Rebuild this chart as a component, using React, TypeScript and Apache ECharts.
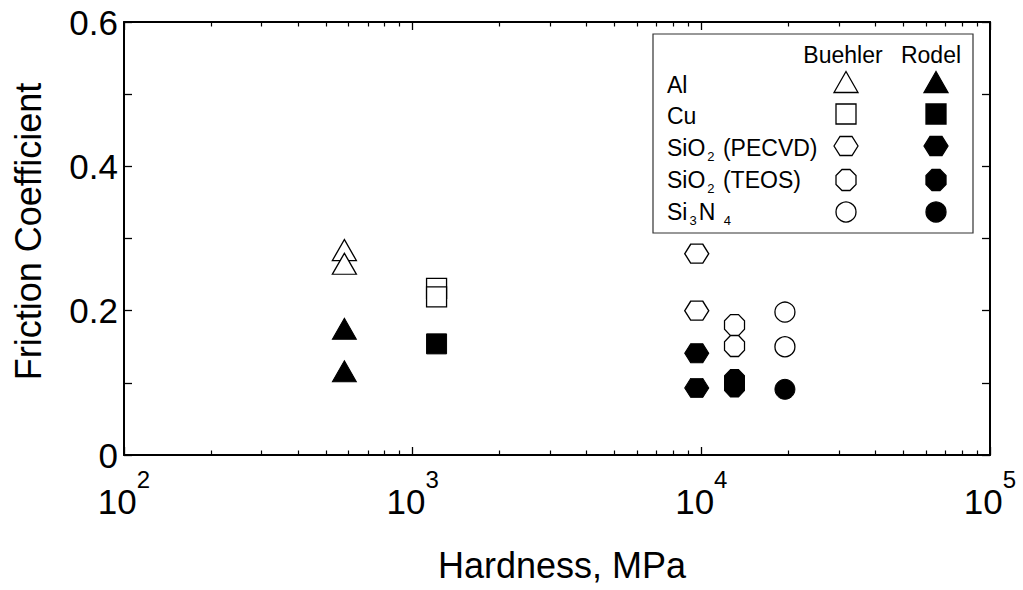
import React, { useEffect, useRef } from 'react';
import * as echarts from 'echarts';

const materials = ['Al', 'Cu', 'SiO2 (PECVD)', 'SiO2 (TEOS)', 'Si3N4'];
const hardness = [580, 1210, 9640, 13030, 19480];
const buehlerValues = [
  [0.284, 0.265],
  [0.231, 0.219],
  [0.279, 0.2],
  [0.18, 0.151],
  [0.198, 0.15],
];
const rodelValues = [
  [0.175, 0.116],
  [0.154],
  [0.141, 0.093],
  [0.104, 0.095],
  [0.091],
];
const xMajorTicks = [100, 1000, 10000, 100000];
const xMinorTicks = [
  200, 300, 400, 500, 600, 700, 800, 900,
  2000, 3000, 4000, 5000, 6000, 7000, 8000, 9000,
  20000, 30000, 40000, 50000, 60000, 70000, 80000, 90000,
];
const legendLabels = [
  '{a|Al}',
  '{a|Cu}',
  '{a|SiO}{s|2}{a| (PECVD)}',
  '{a|SiO}{s|2}{a| (TEOS)}',
  '{a|Si}{s|3}{a|N }{s|4}',
];

const HEX = 'path://M0,10L6,0L18,0L24,10L18,20L6,20Z';
const OCT = 'path://M6,0L14,0L20,6L20,14L14,20L6,20L0,14L0,6Z';
const symbolDefs: { symbol: string; size: number | number[] }[] = [
  { symbol: 'triangle', size: [24, 21] },
  { symbol: 'rect', size: 20 },
  { symbol: HEX, size: [24, 19] },
  { symbol: OCT, size: [20, 21] },
  { symbol: 'circle', size: 20 },
];

const FONT = 'Liberation Sans, Arial, Helvetica, sans-serif';

function legendShape(kind: number, cx: number, cy: number, filled: boolean) {
  const style = { fill: filled ? '#000' : '#fff', stroke: '#000', lineWidth: 1.3 };
  if (kind === 0) {
    return { type: 'polygon', shape: { points: [[cx, cy - 10.5], [cx + 12, cy + 10.5], [cx - 12, cy + 10.5]] }, style };
  }
  if (kind === 1) {
    return { type: 'rect', shape: { x: cx - 10, y: cy - 10, width: 20, height: 20 }, style };
  }
  if (kind === 2) {
    return {
      type: 'polygon',
      shape: { points: [[cx - 12, cy], [cx - 6, cy - 9.5], [cx + 6, cy - 9.5], [cx + 12, cy], [cx + 6, cy + 9.5], [cx - 6, cy + 9.5]] },
      style,
    };
  }
  if (kind === 3) {
    return {
      type: 'polygon',
      shape: {
        points: [[cx - 4, cy - 10.5], [cx + 4, cy - 10.5], [cx + 10, cy - 4.5], [cx + 10, cy + 4.5], [cx + 4, cy + 10.5], [cx - 4, cy + 10.5], [cx - 10, cy + 4.5], [cx - 10, cy - 4.5]],
      },
      style,
    };
  }
  return { type: 'circle', shape: { cx, cy, r: 10 }, style };
}

export default function App() {
  const ref = useRef<HTMLDivElement>(null);

  useEffect(() => {
    document.body.style.margin = '0';
    if (!ref.current) return;
    const chart = echarts.init(ref.current, null, { renderer: 'svg' });

    const series: any[] = [];
    materials.forEach((m, i) => {
      series.push({
        name: m + ' Buehler',
        type: 'scatter',
        xAxisIndex: 0,
        yAxisIndex: 0,
        symbol: symbolDefs[i].symbol,
        symbolSize: symbolDefs[i].size,
        itemStyle: { color: '#fff', borderColor: '#000', borderWidth: 1.3, opacity: 1 },
        data: buehlerValues[i].map((v) => [hardness[i], v]),
      });
      series.push({
        name: m + ' Rodel',
        type: 'scatter',
        xAxisIndex: 0,
        yAxisIndex: 0,
        symbol: symbolDefs[i].symbol,
        symbolSize: symbolDefs[i].size,
        itemStyle: { color: '#000', borderColor: '#000', borderWidth: 1, opacity: 1 },
        data: rodelValues[i].map((v) => [hardness[i], v]),
      });
    });

    const rowsSym = [82, 114, 146, 180, 212];
    const rowsTxt = [85, 116, 148, 180, 212];
    const graphics: any[] = [
      {
        type: 'rect',
        shape: { x: 653, y: 34, width: 320, height: 199 },
        style: { fill: '#fff', stroke: '#333', lineWidth: 1.2 },
        z: 10,
      },
      {
        type: 'text',
        x: 843,
        y: 55,
        z: 11,
        style: { text: 'Buehler', font: `23px ${FONT}`, fill: '#000', align: 'center', verticalAlign: 'middle' },
      },
      {
        type: 'text',
        x: 931,
        y: 55,
        z: 11,
        style: { text: 'Rodel', font: `23px ${FONT}`, fill: '#000', align: 'center', verticalAlign: 'middle' },
      },
    ];
    materials.forEach((m, i) => {
      graphics.push({
        type: 'text',
        x: 667,
        y: rowsTxt[i],
        z: 11,
        style: {
          text: legendLabels[i],
          align: 'left',
          verticalAlign: 'middle',
          fill: '#000',
          rich: {
            a: { fontSize: 23, fontFamily: FONT, lineHeight: 30, verticalAlign: 'middle', fill: '#000' },
            s: { fontSize: 13, fontFamily: FONT, verticalAlign: 'bottom', fill: '#000', padding: [0, 2, 0, 2] },
          },
        },
      });
      graphics.push({ ...legendShape(i, 846, rowsSym[i], false), z: 11 });
      graphics.push({ ...legendShape(i, 936, rowsSym[i], true), z: 11 });
    });

    const axisLine = { show: true, lineStyle: { color: '#000', width: 2 } };
    const logCommon = { type: 'log', logBase: 10, min: 100, max: 100000, splitLine: { show: false } };

    chart.setOption({
      animation: false,
      backgroundColor: '#fff',
      textStyle: { fontFamily: FONT, color: '#000' },
      grid: { left: 124, right: 33, top: 22, bottom: 135, containLabel: false, outerBoundsMode: 'none' },
      xAxis: [
        {
          ...logCommon,
          position: 'bottom',
          name: 'Hardness, MPa',
          nameLocation: 'middle',
          nameGap: 92,
          nameTextStyle: { fontSize: 36, color: '#000', fontFamily: FONT, padding: [0, 0, 0, 10] },
          axisLine,
          axisTick: { show: true, inside: true, length: 8, lineStyle: { color: '#000', width: 1.3 } },
          axisLabel: {
            show: true,
            margin: 12,
            color: '#000',
            formatter: (v: number) => `{b|10}{s|${Math.round(Math.log10(v))}}`,
            rich: {
              b: { fontSize: 35, fontFamily: FONT, color: '#000', lineHeight: 52, verticalAlign: 'bottom' },
              s: { fontSize: 24, fontFamily: FONT, color: '#000', verticalAlign: 'top' },
            },
          },
        },
        {
          ...logCommon,
          position: 'bottom',
          axisLine: { show: false },
          axisTick: { show: true, inside: true, length: 4.5, customValues: xMinorTicks, lineStyle: { color: '#000', width: 1.2 } },
          axisLabel: { show: false },
        },
        {
          ...logCommon,
          position: 'top',
          axisLine,
          axisTick: { show: true, inside: true, length: 8, customValues: xMajorTicks, lineStyle: { color: '#000', width: 1.3 } },
          axisLabel: { show: false },
        },
        {
          ...logCommon,
          position: 'top',
          axisLine: { show: false },
          axisTick: { show: true, inside: true, length: 4.5, customValues: xMinorTicks, lineStyle: { color: '#000', width: 1.2 } },
          axisLabel: { show: false },
        },
      ],
      yAxis: [
        {
          type: 'value',
          position: 'left',
          min: 0,
          max: 0.6,
          interval: 0.1,
          name: 'Friction Coefficient',
          nameLocation: 'middle',
          nameGap: 78,
          nameTextStyle: { fontSize: 36, color: '#000', fontFamily: FONT, padding: [0, 0, 0, 14] },
          axisLine,
          splitLine: { show: false },
          axisTick: { show: true, inside: true, length: 8, lineStyle: { color: '#000', width: 1.3 } },
          axisLabel: {
            show: true,
            margin: 6,
            fontSize: 35,
            color: '#000',
            fontFamily: FONT,
            formatter: (v: number) => {
              const k = Math.round(v * 10);
              if (k % 2 !== 0) return '';
              return k === 0 ? '0' : (k / 10).toFixed(1);
            },
          },
        },
        {
          type: 'value',
          position: 'right',
          min: 0,
          max: 0.6,
          interval: 0.1,
          axisLine,
          splitLine: { show: false },
          axisTick: { show: true, inside: true, length: 8, lineStyle: { color: '#000', width: 1.3 } },
          axisLabel: { show: false },
        },
      ],
      graphic: graphics,
      series,
    });

    return () => chart.dispose();
  }, []);

  return <div ref={ref} style={{ width: 1023, height: 590 }} />;
}
